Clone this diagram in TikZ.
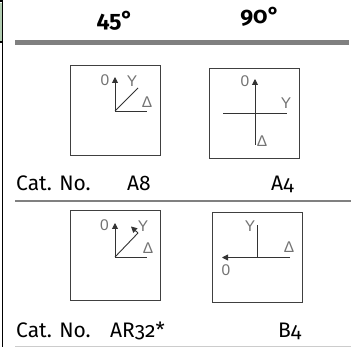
\documentclass[tikz,border=0pt]{standalone}
\usepackage{fontspec}
\setmainfont{Fira Sans}[Numbers=OldStyle]
\newfontfamily\lab{Liberation Sans}
\usetikzlibrary{arrows.meta}
\tikzset{
 x=1pt,y=-1pt,
 panel/.style={draw=black!75,line width=1pt,minimum size=90pt,inner sep=0,outer sep=0},
 axis/.style={draw=black!80,line width=0.9pt},
 tipped/.style={axis,-{Triangle[length=6pt,width=6pt]}},
 tag/.style={font=\lab\fontsize{15.5}{15.5}\selectfont,text=black!55,inner sep=0},
 head/.style={font=\fontsize{23}{23}\selectfont\bfseries,inner sep=0},
 cat/.style={font=\fontsize{21}{21}\selectfont,inner sep=0,anchor=base west},
}
\begin{document}
\begin{tikzpicture}
\useasboundingbox (0,0) rectangle (357,347);
\fill[white] (0,0) rectangle (357,347);
\fill[green!35!black!30] (0,3) rectangle (2,41);
\fill[black] (0,0) rectangle (2,2);
\fill[black] (0,41) rectangle (2,43);
\draw[black,line width=1.6pt] (2.5,0) -- (2.5,347);
\coordinate (r1a) at (15,42.5); \coordinate (r1b) at (349,42.5);
\draw[black!50,line width=5pt] (r1a) -- (r1b);
\coordinate (r2a) at (15,201.5); \coordinate (r2b) at (351,201.5);
\draw[black!50,line width=2pt] (r2a) -- (r2b);
\coordinate (r3a) at (15,346.5); \coordinate (r3b) at (351,346.5);
\draw[black!20,line width=1pt] (r3a) -- (r3b);
\node[head] (h1) at (115,21) {45°};
\node[head] (h2) at (260,17) {90°};
% panel 1
\node[panel] (p1) at (115,111) {};
\coordinate (o1) at (115,111);
\coordinate (u1) at (115,77); \coordinate (e1) at (147,111); \coordinate (d1) at (138,88);
\draw[tipped] (o1) -- (u1);
\draw[axis] (o1) -- (e1);
\draw[axis] (o1) -- (d1);
\node[tag] (a1) at (105,80) {0};
\node[tag] (b1) at (132,81) {Y};
\node[tag] (c1) at (147,102) {Δ};
% panel 2
\node[panel] (p2) at (254.5,113.5) {};
\coordinate (t2) at (255,79); \coordinate (s2) at (255,145);
\coordinate (l2) at (223,113.5); \coordinate (r2) at (287,113.5);
\draw[tipped] (s2) -- (t2);
\draw[axis] (l2) -- (r2);
\node[tag] (a2) at (245,81) {0};
\node[tag] (b2) at (286,103) {Y};
\node[tag] (c2) at (262,141) {Δ};
% panel 3
\node[panel] (p3) at (115,256) {};
\coordinate (o3) at (115,257);
\coordinate (u3) at (115,223); \coordinate (e3) at (147,257);
\coordinate (k3) at (138,233); \coordinate (d3) at (131,226.5);
\draw[tipped] (o3) -- (u3);
\draw[axis] (o3) -- (e3);
\draw[axis] (o3) -- (k3);
\draw[tipped] (k3) -- (d3);
\node[tag] (a3) at (104.5,225) {0};
\node[tag] (b3) at (143,226) {Y};
\node[tag] (c3) at (148,248) {Δ};
% panel 4
\node[panel] (p4) at (257.5,257.5) {};
\coordinate (o4) at (257.5,257.5);
\coordinate (u4) at (257.5,225); \coordinate (e4) at (290,257.5); \coordinate (w4) at (222,257.5);
\draw[tipped] (e4) -- (w4);
\draw[axis] (o4) -- (u4);
\node[tag] (a4) at (226,270) {0};
\node[tag] (b4) at (250,226) {Y};
\node[tag] (c4) at (289,247) {Δ};
% labels
\node[cat] (n1) at (16,191) {Cat. No.};
\node[cat] (n2) at (127,191) {A8};
\node[cat] (n3) at (271,191) {A4};
\node[cat] (n4) at (16,338) {Cat. No.};
\node[cat] (n5) at (110,338) {AR32*};
\node[cat] (n6) at (278,338) {B4};
\end{tikzpicture}
\end{document}
